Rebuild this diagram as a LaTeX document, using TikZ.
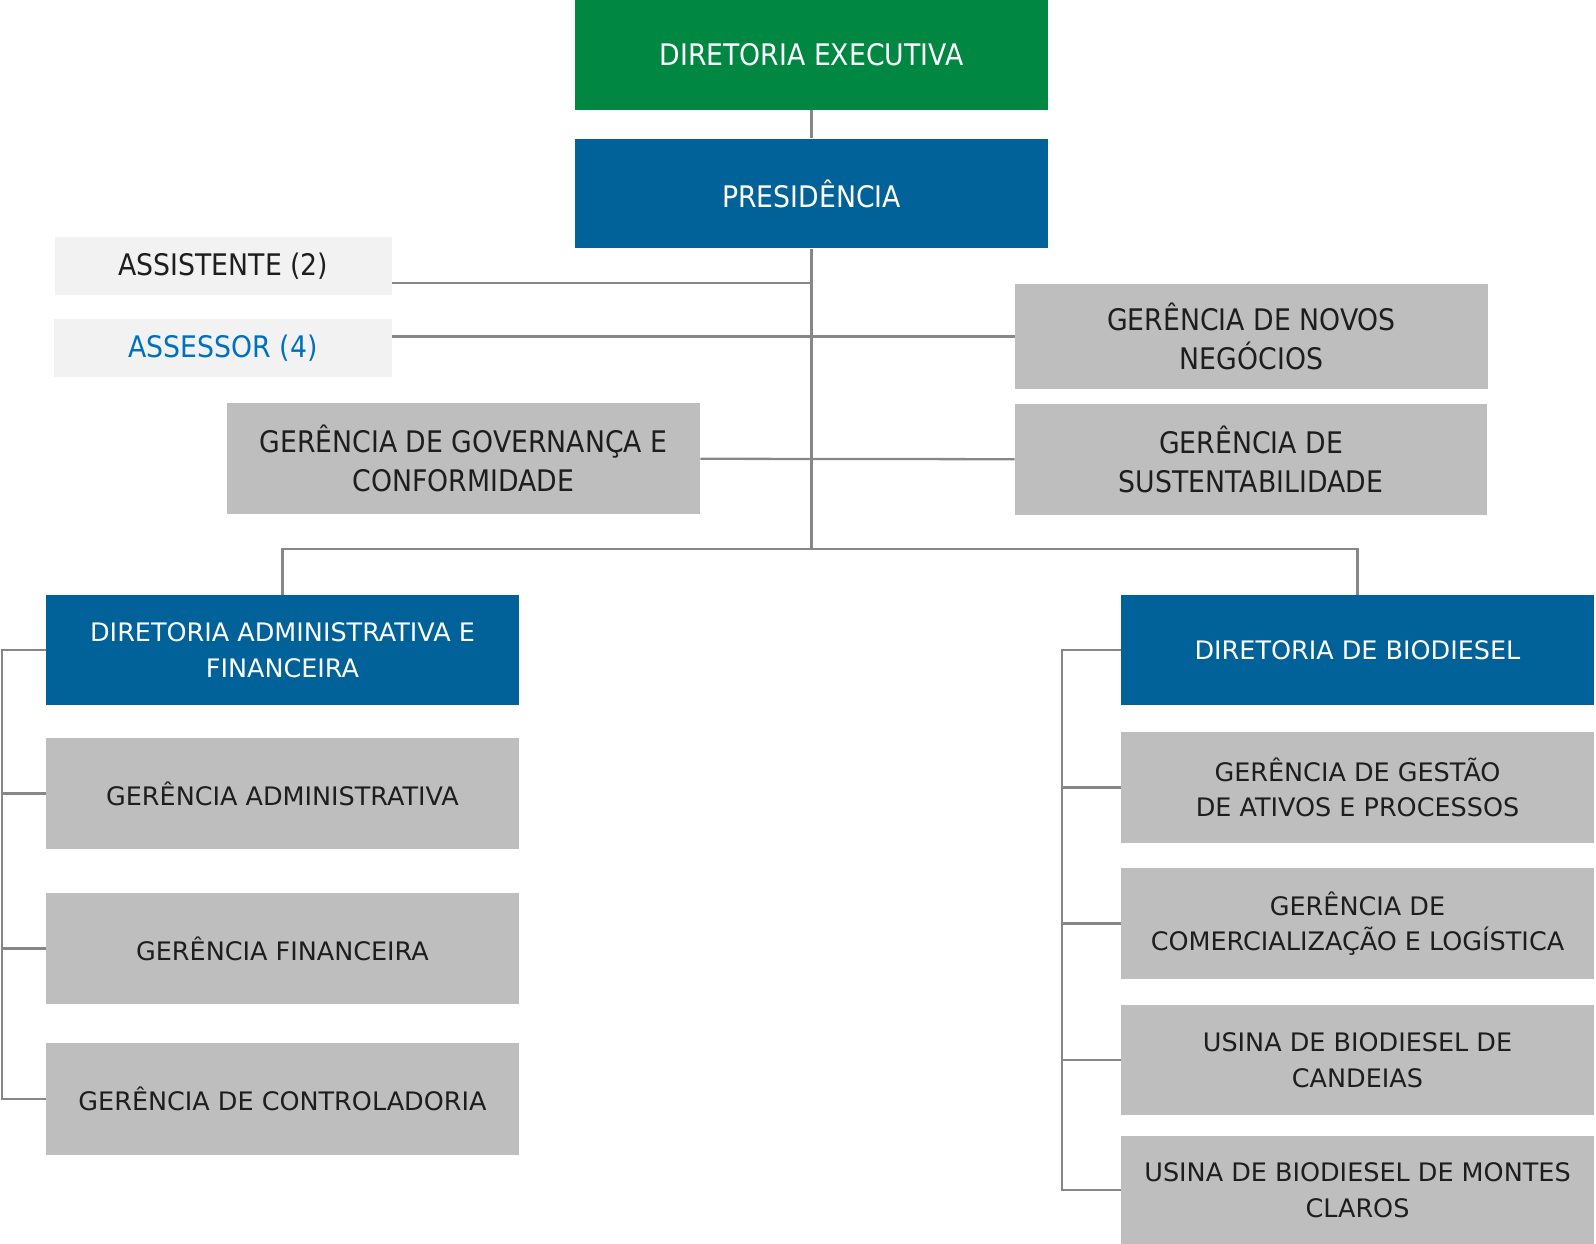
\documentclass[tikz,border=0pt]{standalone}
\usepackage{fontspec}
\setmainfont{DejaVu Sans}
\newfontfamily\narrowfont[FakeStretch=0.9]{DejaVu Sans}
\usetikzlibrary{calc}
\definecolor{execgreen}{RGB}{0,136,66}
\definecolor{dirblue}{RGB}{0,98,153}
\definecolor{boxgrey}{RGB}{190,190,190}
\definecolor{boxlight}{RGB}{242,242,242}
\definecolor{linegrey}{RGB}{135,135,135}
\definecolor{textdark}{RGB}{30,30,30}
\definecolor{assessblue}{RGB}{0,112,192}
\tikzset{x=0.02cm, y=-0.02cm,
  box/.style={inner sep=0pt, align=center, minimum width=9.46cm, minimum height=2.2cm},
  topbox/.style={box, font=\narrowfont\fontsize{16.9}{21.9}\selectfont},
  lowbox/.style={box, font=\fontsize{14.5}{20.2}\selectfont},
  greybox/.style={fill=boxgrey, text=textdark},
  bluebox/.style={fill=dirblue, text=white},
  link/.style={draw=linegrey, line width=1.3pt}}

\begin{document}
\begin{tikzpicture}
   \useasboundingbox (0,0) rectangle (1596,1244);
   \begin{scope}
    \node[topbox, fill=execgreen, text=white] (exec) at ( 811.5,  55.0) {DIRETORIA EXECUTIVA};
    \node[topbox, bluebox] (pres) at ( 811.5, 193.5) {PRESIDÊNCIA};
    \node[topbox, fill=boxlight, text=textdark, minimum width=6.74cm, minimum height=1.16cm] (assist) at ( 223.5, 266.0) {ASSISTENTE (2)};
    \node[topbox, fill=boxlight, text=assessblue, minimum width=6.76cm, minimum height=1.16cm] (assess) at ( 223.0, 348.0) {ASSESSOR (4)};
    \node[topbox, greybox, minimum height=2.1cm] (novos) at (1251.5, 336.5) {GERÊNCIA DE NOVOS\\NEGÓCIOS};
    \node[topbox, greybox, minimum height=2.22cm] (gov) at ( 463.5, 458.5) {GERÊNCIA DE GOVERNANÇA E\\CONFORMIDADE};
    \node[topbox, greybox, minimum width=9.44cm, minimum height=2.22cm] (sust) at (1251.0, 459.5) {GERÊNCIA DE\\SUSTENTABILIDADE};
    \coordinate (hub) at (811.5, 549.0);
    \coordinate (assistend) at ($(assist.east)+(0,17)$);
    \draw[link] (exec) -- (pres);
    \draw[link] (pres) -- (hub);
    \draw[link] (assistend) -- (assistend -| pres.south);
    \draw[link] (assess.east |- novos.west) -- (novos.west);
    \draw[link] (gov) -- (sust);
   \end{scope}
   \begin{scope}
    \node[lowbox, bluebox] (daf) at ( 282.5, 650.0) {DIRETORIA ADMINISTRATIVA E\\FINANCEIRA};
    \node[lowbox, greybox, minimum height=2.22cm] (ga) at ( 282.5, 793.5) {GERÊNCIA ADMINISTRATIVA};
    \node[lowbox, greybox, minimum height=2.22cm] (gf) at ( 282.5, 948.5) {GERÊNCIA FINANCEIRA};
    \node[lowbox, greybox, minimum height=2.24cm] (gc) at ( 282.5,1099.0) {GERÊNCIA DE CONTROLADORIA};
    \coordinate (lbus) at (2.0, 0);
    \draw[link] (daf.west) -- (daf.west -| lbus) |- (gc.west);
    \foreach \n in {ga,gf}
      \draw[link] (\n.west) -- (\n.west -| lbus);
   \end{scope}
   \begin{scope}
    \node[lowbox, bluebox] (bio) at (1357.5, 650.0) {DIRETORIA DE BIODIESEL};
    \node[lowbox, greybox, minimum height=2.22cm] (gestao) at (1357.5, 787.5) {GERÊNCIA DE GESTÃO\\DE ATIVOS E PROCESSOS};
    \node[lowbox, greybox, minimum height=2.22cm] (comerc) at (1357.5, 923.5) {GERÊNCIA DE\\COMERCIALIZAÇÃO E LOGÍSTICA};
    \node[lowbox, greybox] (cand) at (1357.5,1060.0) {USINA DE BIODIESEL DE\\CANDEIAS};
    \node[lowbox, greybox, minimum height=2.16cm] (montes) at (1357.5,1190.0) {USINA DE BIODIESEL DE MONTES\\CLAROS};
    \coordinate (rbus) at (1062.0, 0);
    \draw[link] (daf.north) |- (hub) -| (bio.north);
    \draw[link] (bio.west) -- (bio.west -| rbus) |- (montes.west);
    \foreach \n in {gestao,comerc,cand}
      \draw[link] (\n.west) -- (\n.west -| rbus);
   \end{scope}
\end{tikzpicture}
\end{document}
